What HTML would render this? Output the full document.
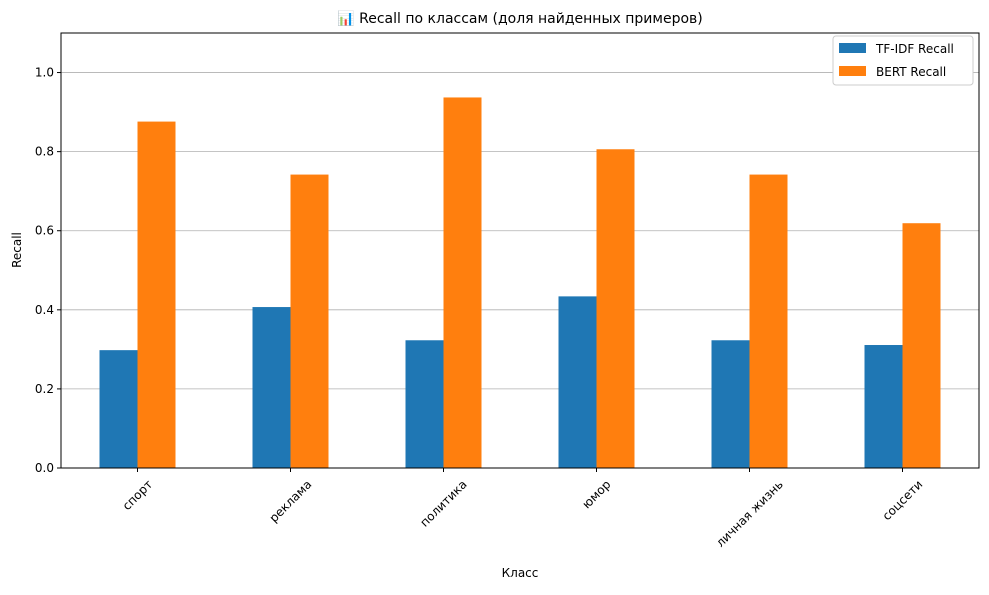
<!DOCTYPE html>
<html><head><meta charset="utf-8"><style>
body{margin:0;background:#fff;font-family:"Liberation Sans","DejaVu Sans",sans-serif;}
svg text{font-family:"DejaVu Sans","Liberation Sans",sans-serif;fill:#000;}
</style></head><body>
<svg id="chart" width="989" height="590" xmlns="http://www.w3.org/2000/svg">
<text x="520" y="23" font-size="14" text-anchor="middle">📊 Recall по классам (доля найденных примеров)</text>
<g id="grid"></g><g id="bars"></g><g id="axes"></g>
<text transform="translate(21,250) rotate(-90)" font-size="12" text-anchor="middle">Recall</text>
<text x="520" y="577" font-size="12" text-anchor="middle">Класс</text>
<g>
<rect x="833" y="36" width="140" height="49" fill="#fff" stroke="#ccc" rx="3"/>
<rect x="839" y="43" width="27" height="10" fill="#1f77b4"/>
<text x="876" y="53" font-size="12">TF-IDF Recall</text>
<rect x="839" y="66" width="27" height="10" fill="#ff7f0e"/>
<text x="876" y="76" font-size="12">BERT Recall</text>
</g>
</svg>
<script>
const categories=["спорт","реклама","политика","юмор","личная жизнь","соцсети"];
const tfidfRecall=[0.298,0.407,0.323,0.434,0.323,0.311];
const bertRecall=[0.876,0.742,0.937,0.806,0.742,0.619];
const yTicks=[0.0,0.2,0.4,0.6,0.8,1.0];
const NS="http://www.w3.org/2000/svg";
const L=61,R=979,T=33,B=468,YMAX=1.1;
const y=v=>B-(v/YMAX)*(B-T);
const step=(R-L)/categories.length;
const xc=i=>L+step*(i+0.5);
const bw=38;
function mk(tag,attrs,parent){const e=document.createElementNS(NS,tag);for(const k in attrs)e.setAttribute(k,attrs[k]);parent.appendChild(e);return e;}
const grid=document.getElementById('grid'),bars=document.getElementById('bars'),axes=document.getElementById('axes');
yTicks.forEach(t=>{
  if(t>0){const g=mk('line',{x1:L,x2:R,y1:y(t),y2:y(t),stroke:'#b0b0b0','stroke-width':0.8},grid);
  
  }
  mk('line',{x1:L-4,x2:L,y1:y(t),y2:y(t),stroke:'#000'},axes);
  const tx=mk('text',{x:L-7,y:y(t)+4,'font-size':12,'text-anchor':'end'},axes);
  tx.textContent=t.toFixed(1);
  
  
});
categories.forEach((c,i)=>{
  const b1=mk('rect',{x:xc(i)-bw,y:y(tfidfRecall[i]),width:bw,height:B-y(tfidfRecall[i]),fill:'#1f77b4'},bars);
  
  
  const b2=mk('rect',{x:xc(i),y:y(bertRecall[i]),width:bw,height:B-y(bertRecall[i]),fill:'#ff7f0e'},bars);
  
  
  mk('line',{x1:xc(i),x2:xc(i),y1:B,y2:B+4,stroke:'#000'},axes);
  const tx=mk('text',{'font-size':12,'text-anchor':'middle','dominant-baseline':'central'},axes);
  tx.textContent=c;
  
  
  const w=tx.getComputedTextLength();
  const cy=B+10+(w/2+6)*0.7071;
  tx.setAttribute('transform',`translate(${xc(i)},${cy}) rotate(-45)`);
});
const fr=mk('rect',{x:L,y:T,width:R-L,height:B-T,fill:'none',stroke:'#000','stroke-width':1},axes);


</script>
</body></html>
